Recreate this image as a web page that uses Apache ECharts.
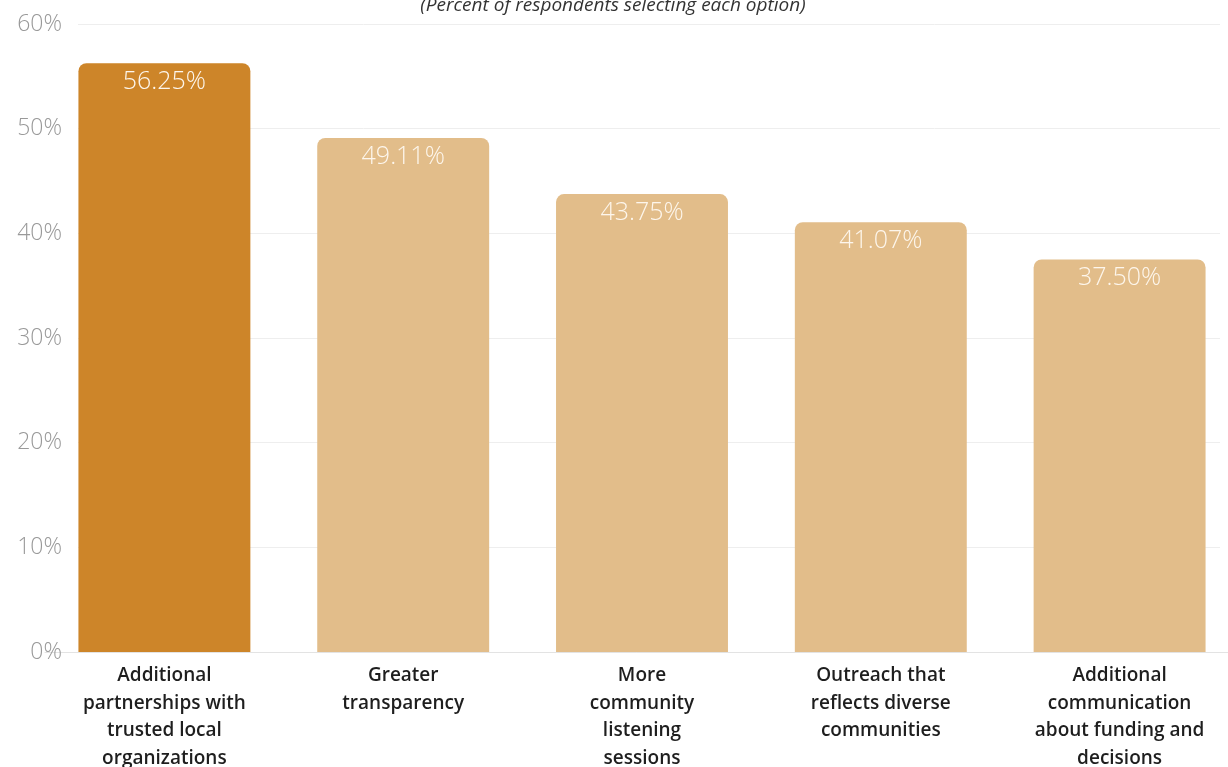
<!DOCTYPE html>
<html><head><meta charset="utf-8">
<script src="https://cdn.jsdelivr.net/npm/echarts@6/dist/echarts.min.js"></script>
<style>html,body{margin:0;padding:0;background:#fff}#c{width:1228px;height:767px}</style>
</head><body><div id="c"></div>
<script>
var categories = [
  "Additional\npartnerships with\ntrusted local\norganizations",
  "Greater\ntransparency",
  "More\ncommunity\nlistening\nsessions",
  "Outreach that\nreflects diverse\ncommunities",
  "Additional\ncommunication\nabout funding and\ndecisions"
];
var values = [56.25, 49.11, 43.75, 41.07, 37.50];
var highlight = [true, false, false, false, false];
var yTicks = [0, 10, 20, 30, 40, 50, 60];
var subtitle = "(Percent of respondents selecting each option)";

var chart = echarts.init(document.getElementById('c'));
var font = '"Open Sans", "Noto Sans", sans-serif';
chart.setOption({
  animation: false,
  title: {
    text: subtitle, left: 608, textAlign: 'center', top: -9,
    textStyle: {fontFamily: font, fontStyle: 'italic', fontWeight: 'normal', fontSize: 19, color: '#333'}
  },
  grid: [
    {left: 78, right: 8, top: 24, bottom: 115, outerBoundsMode: 'none', containLabel: false},
    {left: 45, right: -11, top: 24, bottom: 115, outerBoundsMode: 'none', containLabel: false}
  ],
  xAxis: [
    {gridIndex: 0, type: 'category', data: categories, show: false},
    {gridIndex: 1, type: 'category', data: categories,
     axisLine: {show: true, lineStyle: {color: '#e3e3e3', width: 1}},
     axisTick: {show: false},
     axisLabel: {interval: 0, margin: 10, fontFamily: font, fontWeight: 600, fontSize: 19, lineHeight: 27.5, color: '#1e1e1e'}}
  ],
  yAxis: [
    {gridIndex: 0, type: 'value', min: yTicks[0], max: yTicks[yTicks.length - 1], interval: 10,
     axisLine: {show: false}, axisTick: {show: false},
     splitLine: {lineStyle: {color: '#eeeeee', width: 1}},
     axisLabel: {margin: 16, formatter: '{value}%', fontFamily: font, fontWeight: 300, fontSize: 23, color: '#999'}},
    {gridIndex: 1, type: 'value', min: yTicks[0], max: yTicks[yTicks.length - 1], interval: 10, show: false}
  ],
  series: [{
    type: 'bar', xAxisIndex: 1, yAxisIndex: 1,
    barCategoryGap: '28%',
    data: values.map(function (v, i) {
      return {value: v, itemStyle: {color: highlight[i] ? '#CD8529' : '#E2BD8A'}};
    }),
    itemStyle: {borderRadius: [8, 8, 0, 0]},
    label: {
      show: true, position: 'insideTop', distance: 6,
      formatter: function (p) { return p.value.toFixed(2) + '%'; },
      fontFamily: font, fontWeight: 300, fontSize: 25, color: '#fdf6ec'
    }
  }]
});
</script></body></html>
